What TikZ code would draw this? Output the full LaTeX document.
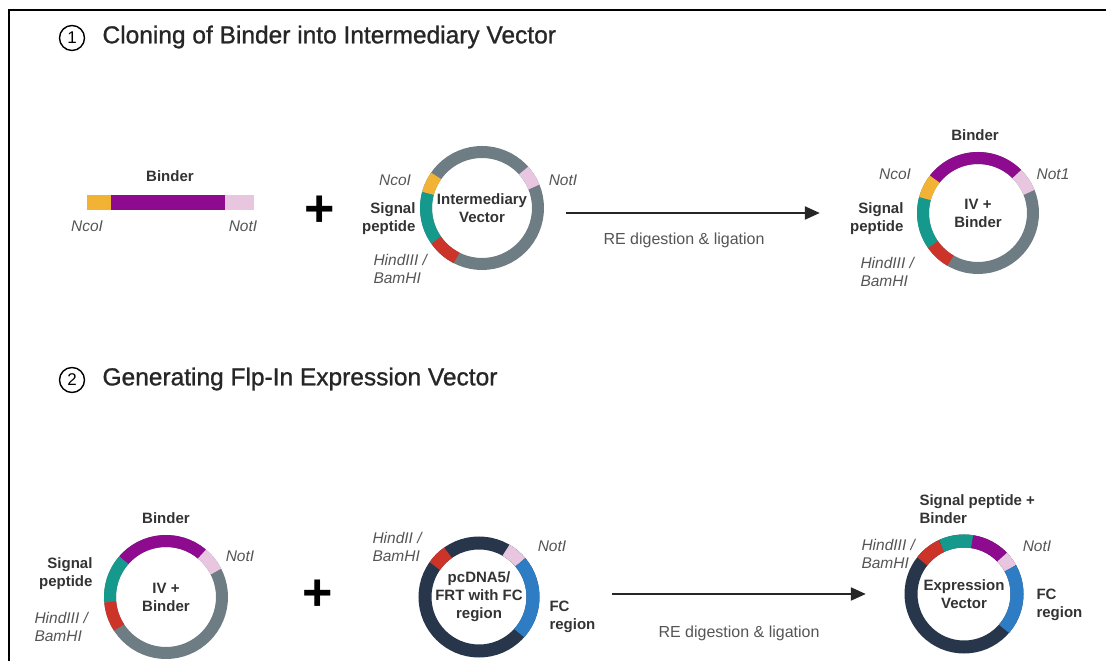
\documentclass[tikz,border=0pt]{standalone}
\usepackage{fontspec}
\setmainfont{Liberation Sans}
\usetikzlibrary{arrows.meta}
\definecolor{ivgray}{HTML}{6E7C84}
\definecolor{pcnavy}{HTML}{27364A}
\definecolor{ncoY}{HTML}{F2B233}
\definecolor{bindP}{HTML}{8E0A8E}
\definecolor{notP}{HTML}{E8C6E0}
\definecolor{sigT}{HTML}{14998C}
\definecolor{hindR}{HTML}{CC3329}
\definecolor{fcB}{HTML}{2E7DC4}
\definecolor{txtgray}{HTML}{333333}
\definecolor{sitegray}{HTML}{555555}
\tikzset{ring/.style={line width=12pt},
navyring/.style={line width=13pt},
lbl/.style={font=\fontsize{15}{18}\selectfont\bfseries,text=txtgray,align=center},
site/.style={font=\fontsize{15.5}{18.5}\selectfont\itshape,text=sitegray},
vec/.style={circle,inner sep=0pt,minimum size=104pt,lbl},
num/.style={circle,draw,line width=1.4pt,inner sep=0pt,minimum size=25pt,font=\fontsize{17}{17}\selectfont},
head/.style={anchor=west,font=\fontsize{24.5}{28}\selectfont\addfontfeatures{FakeBold=1},text=black!85},
plus/.style={font=\fontsize{52}{52}\selectfont\bfseries},
flow/.style={line width=2.2pt,draw=black!85,-{Triangle[length=15pt,width=13pt]}},
re/.style={font=\fontsize{16}{19}\selectfont,text=sitegray}}

\begin{document}
\begin{tikzpicture}[x=1pt,y=1pt]
\useasboundingbox (0,0) rectangle (1106,661);
\draw[line width=1.5pt] (9,0) -- (9,651) -- (1106,651);

% step 1
\node[num] (n1) at (72,623) {1};
\node[head] (t1) at (99,624) {Cloning of Binder into Intermediary Vector};

\fill[ncoY] (87,451) rectangle (111,466);
\fill[bindP] (111,451) rectangle (225,466);
\fill[notP] (225,451) rectangle (254,466);
\node[lbl] (bar) at (170,485) {Binder};
\node[site] (barnco) at (87,435) {NcoI};
\node[site] (barnot) at (243,435) {NotI};

\node[plus] (p1) at (320,450) {+};

\node[vec] (iv) at (482,453) {Intermediary\\Vector};
\draw[ring,ivgray] (iv.center) circle[radius=56];
\foreach \a/\b/\c in {145/165/ncoY,165/215/sigT,215/243/hindR,22/42/notP}
  \draw[ring,\c] (iv.center) ++(\a:56) arc[start angle=\a,end angle=\b,radius=56];
\node[site] (ivnco) at (395,481) {NcoI};
\node[lbl,anchor=east,align=right] (ivsig) at (419,442) {Signal\\peptide};
\node[site,anchor=west,align=left] (ivhind) at (370,392) {HindIII /\\BamHI};
\node[site] (ivnot) at (563,481) {NotI};

\node[vec] (ivb) at (978,448) {IV +\\Binder};
\draw[ring,ivgray] (ivb.center) circle[radius=55];
\foreach \a/\b/\c in {45/142/bindP,142/165/ncoY,165/215/sigT,215/240/hindR,22/45/notP}
  \draw[ring,\c] (ivb.center) ++(\a:55) arc[start angle=\a,end angle=\b,radius=55];
\node[lbl] (ivbbind) at (975,526) {Binder};
\node[site] (ivbnco) at (895,487) {NcoI};
\node[site] (ivbnot) at (1053,487) {Not1};
\node[lbl,anchor=east,align=right] (ivbsig) at (907,442) {Signal\\peptide};
\node[site,anchor=west,align=left] (ivbhind) at (857,389) {HindIII /\\BamHI};

\draw[flow,shorten <=32pt,shorten >=106pt] (iv.east |- ivb.west) -- (ivb.west);
\node[re] (re1) at (684,421) {RE digestion \& ligation};

% step 2
\node[num] (n2) at (72,281) {2};
\node[head] (t2) at (99,282) {Generating Flp-In Expression Vector};

\node[vec] (ivc) at (166,64) {IV +\\Binder};
\draw[ring,ivgray] (ivc.center) circle[radius=56];
\foreach \a/\b/\c in {50/139/bindP,139/185/sigT,185/213/hindR,27/50/notP}
  \draw[ring,\c] (ivc.center) ++(\a:56) arc[start angle=\a,end angle=\b,radius=56];
\node[lbl] (ivcbind) at (166,143) {Binder};
\node[lbl,anchor=east,align=right] (ivcsig) at (96,87) {Signal\\peptide};
\node[site] (ivcnot) at (240,105) {NotI};
\node[site,anchor=west,align=left] (ivchind) at (31,34) {HindIII /\\BamHI};

\node[plus] (p2) at (318,66) {+};

\node[vec] (pc) at (479,64) {pcDNA5/\\FRT with FC\\region};
\draw[navyring,pcnavy] (pc.center) circle[radius=54];
\foreach \a/\b/\c in {125/145/hindR,40/60/notP,-42/40/fcB}
  \draw[navyring,\c] (pc.center) ++(\a:54) arc[start angle=\a,end angle=\b,radius=54];
\node[site,anchor=west,align=left] (pchind) at (369,114) {HindII /\\BamHI};
\node[site] (pcnot) at (552,115) {NotI};
\node[lbl,anchor=west,align=left] (pcfc) at (546,44) {FC\\region};

\node[vec] (ev) at (964,67) {Expression\\Vector};
\draw[navyring,pcnavy] (ev.center) circle[radius=53];
\foreach \a/\b/\c in {115/142/hindR,81/115/sigT,44/81/bindP,29/44/notP,-41/29/fcB}
  \draw[navyring,\c] (ev.center) ++(\a:53) arc[start angle=\a,end angle=\b,radius=53];
\node[lbl,anchor=west,align=left] (evsig) at (916,152) {Signal peptide +\\Binder};
\node[site,anchor=west,align=left] (evhind) at (858,107) {HindIII /\\BamHI};
\node[site] (evnot) at (1037,115) {NotI};
\node[lbl,anchor=west,align=left] (evfc) at (1033,56) {FC\\region};

\draw[flow,shorten <=81pt,shorten >=46pt] (pc.east |- ev.west) -- (ev.west);
\node[re] (re2) at (739,28) {RE digestion \& ligation};
\end{tikzpicture}
\end{document}
